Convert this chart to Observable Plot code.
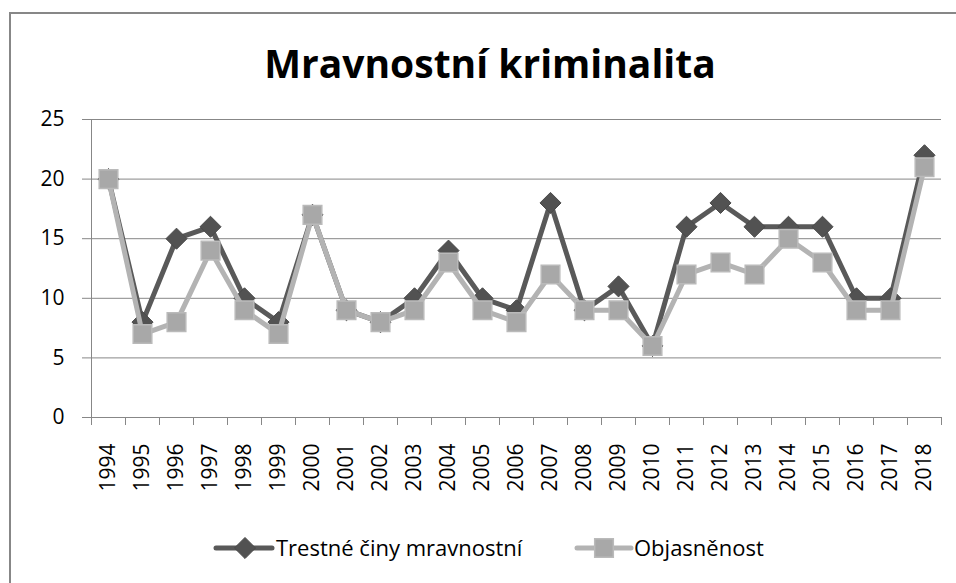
<!DOCTYPE html>
<html>
<head>
<meta charset="utf-8">
<script src="https://cdn.jsdelivr.net/npm/d3@7"></script>
<script src="https://cdn.jsdelivr.net/npm/@observablehq/plot@0.6"></script>
<style>
  html, body { margin: 0; padding: 0; background: #fff; overflow: hidden; }
  #wrap { position: relative; width: 956px; height: 583px; overflow: hidden; font-family: "Open Sans", Lato, sans-serif; }
  #border { position: absolute; left: 9px; top: 12px; width: 1000px; height: 700px; border: 2px solid #878787; box-sizing: border-box; }
  #title { position: absolute; left: 0; top: 39px; width: 980px; text-align: center; font-size: 39px; line-height: 48px; font-weight: bold; color: #000; }
  #chart { position: absolute; left: 0; top: 100px; }
  #legend { position: absolute; left: 0; top: 528px; width: 956px; height: 40px; }
</style>
</head>
<body>
<div id="wrap">
  <div id="border"></div>
  <div id="title">Mravnostní kriminalita</div>
  <div id="chart"></div>
  <div id="legend"></div>
</div>
<script>
const years = [1994, 1995, 1996, 1997, 1998, 1999, 2000, 2001, 2002, 2003, 2004, 2005, 2006,
               2007, 2008, 2009, 2010, 2011, 2012, 2013, 2014, 2015, 2016, 2017, 2018];
const trestne = [20, 8, 15, 16, 10, 8, 17, 9, 8, 10, 14, 10, 9, 18, 9, 11, 6, 16, 18, 16, 16, 16, 10, 10, 22];
const objasnenost = [20, 7, 8, 14, 9, 7, 17, 9, 8, 9, 13, 9, 8, 12, 9, 9, 6, 12, 13, 12, 15, 13, 9, 9, 21];
const yTicks = [0, 5, 10, 15, 20, 25];
const seriesNames = ["Trestné činy mravnostní", "Objasněnost"];

const dark = "#595959", darkMarker = "#525252";
const light = "#b3b3b3", lightMarker = "#a8a8a8";
const gridColor = "#878787";
const font = "'Open Sans', Lato, sans-serif";

const rowsA = years.map((y, i) => ({year: y, value: trestne[i]}));
const rowsB = years.map((y, i) => ({year: y, value: objasnenost[i]}));
const edges = years.map(y => y - 0.5).concat([years[years.length - 1] + 0.5]);

const chart = Plot.plot({
  width: 956,
  height: 400,
  marginTop: 19,
  marginBottom: 83,
  marginLeft: 91,
  marginRight: 15,
  style: {fontFamily: font, color: "#000", background: "transparent"},
  x: {type: "linear", domain: [edges[0], edges[edges.length - 1]]},
  y: {domain: [0, 25]},
  marks: [
    Plot.gridY(yTicks.filter(t => t > 0), {stroke: gridColor, strokeOpacity: 1, strokeWidth: 1}),
    Plot.ruleY([0], {stroke: gridColor, strokeWidth: 1}),
    Plot.ruleX([edges[0]], {stroke: gridColor, strokeWidth: 1}),
    Plot.axisY({ticks: yTicks, tickSize: 9, tickPadding: 18, fontSize: 21, stroke: gridColor, strokeOpacity: 1, label: null}),
    Plot.axisX({ticks: edges, tickSize: 8, tickFormat: () => "", stroke: gridColor, strokeOpacity: 1, label: null}),
    Plot.axisX({ticks: years, tickSize: 0, tickPadding: 26, tickRotate: -90, tickFormat: d => String(d), fontSize: 21, label: null}),
    Plot.line(rowsA, {x: "year", y: "value", stroke: dark, strokeWidth: 5, strokeLinejoin: "round"}),
    Plot.dot(rowsA, {x: "year", y: "value", symbol: "diamond2", r: 9.5, fill: darkMarker, stroke: "#4a4a4a", strokeWidth: 1}),
    Plot.line(rowsB, {x: "year", y: "value", stroke: light, strokeWidth: 5, strokeLinejoin: "round"}),
    Plot.dot(rowsB, {x: "year", y: "value", symbol: "square", r: 10.5, fill: lightMarker, stroke: "#bababa", strokeWidth: 1.5})
  ]
});
document.getElementById("chart").appendChild(chart);

// Legend
const lg = d3.select("#legend").append("svg").attr("width", 956).attr("height", 40)
  .style("font-family", font);
const cy = 20;
// series 1
lg.append("line").attr("x1", 216).attr("x2", 272).attr("y1", cy).attr("y2", cy)
  .attr("stroke", dark).attr("stroke-width", 5).attr("stroke-linecap", "round");
lg.append("path").attr("d", d3.symbol(d3.symbolDiamond2, Math.PI * 9.5 * 9.5)())
  .attr("transform", `translate(245,${cy})`).attr("fill", darkMarker).attr("stroke", "#4a4a4a");
lg.append("text").attr("x", 276).attr("y", cy).attr("dy", "0.36em").attr("font-size", 22).text(seriesNames[0]);
// series 2
lg.append("line").attr("x1", 577).attr("x2", 631).attr("y1", cy).attr("y2", cy)
  .attr("stroke", light).attr("stroke-width", 5).attr("stroke-linecap", "round");
lg.append("path").attr("d", d3.symbol(d3.symbolSquare, Math.PI * 10.5 * 10.5)())
  .attr("transform", `translate(604,${cy})`).attr("fill", lightMarker).attr("stroke", "#bababa").attr("stroke-width", 1.5);
lg.append("text").attr("x", 634).attr("y", cy).attr("dy", "0.36em").attr("font-size", 22).text(seriesNames[1]);
</script>
</body>
</html>
